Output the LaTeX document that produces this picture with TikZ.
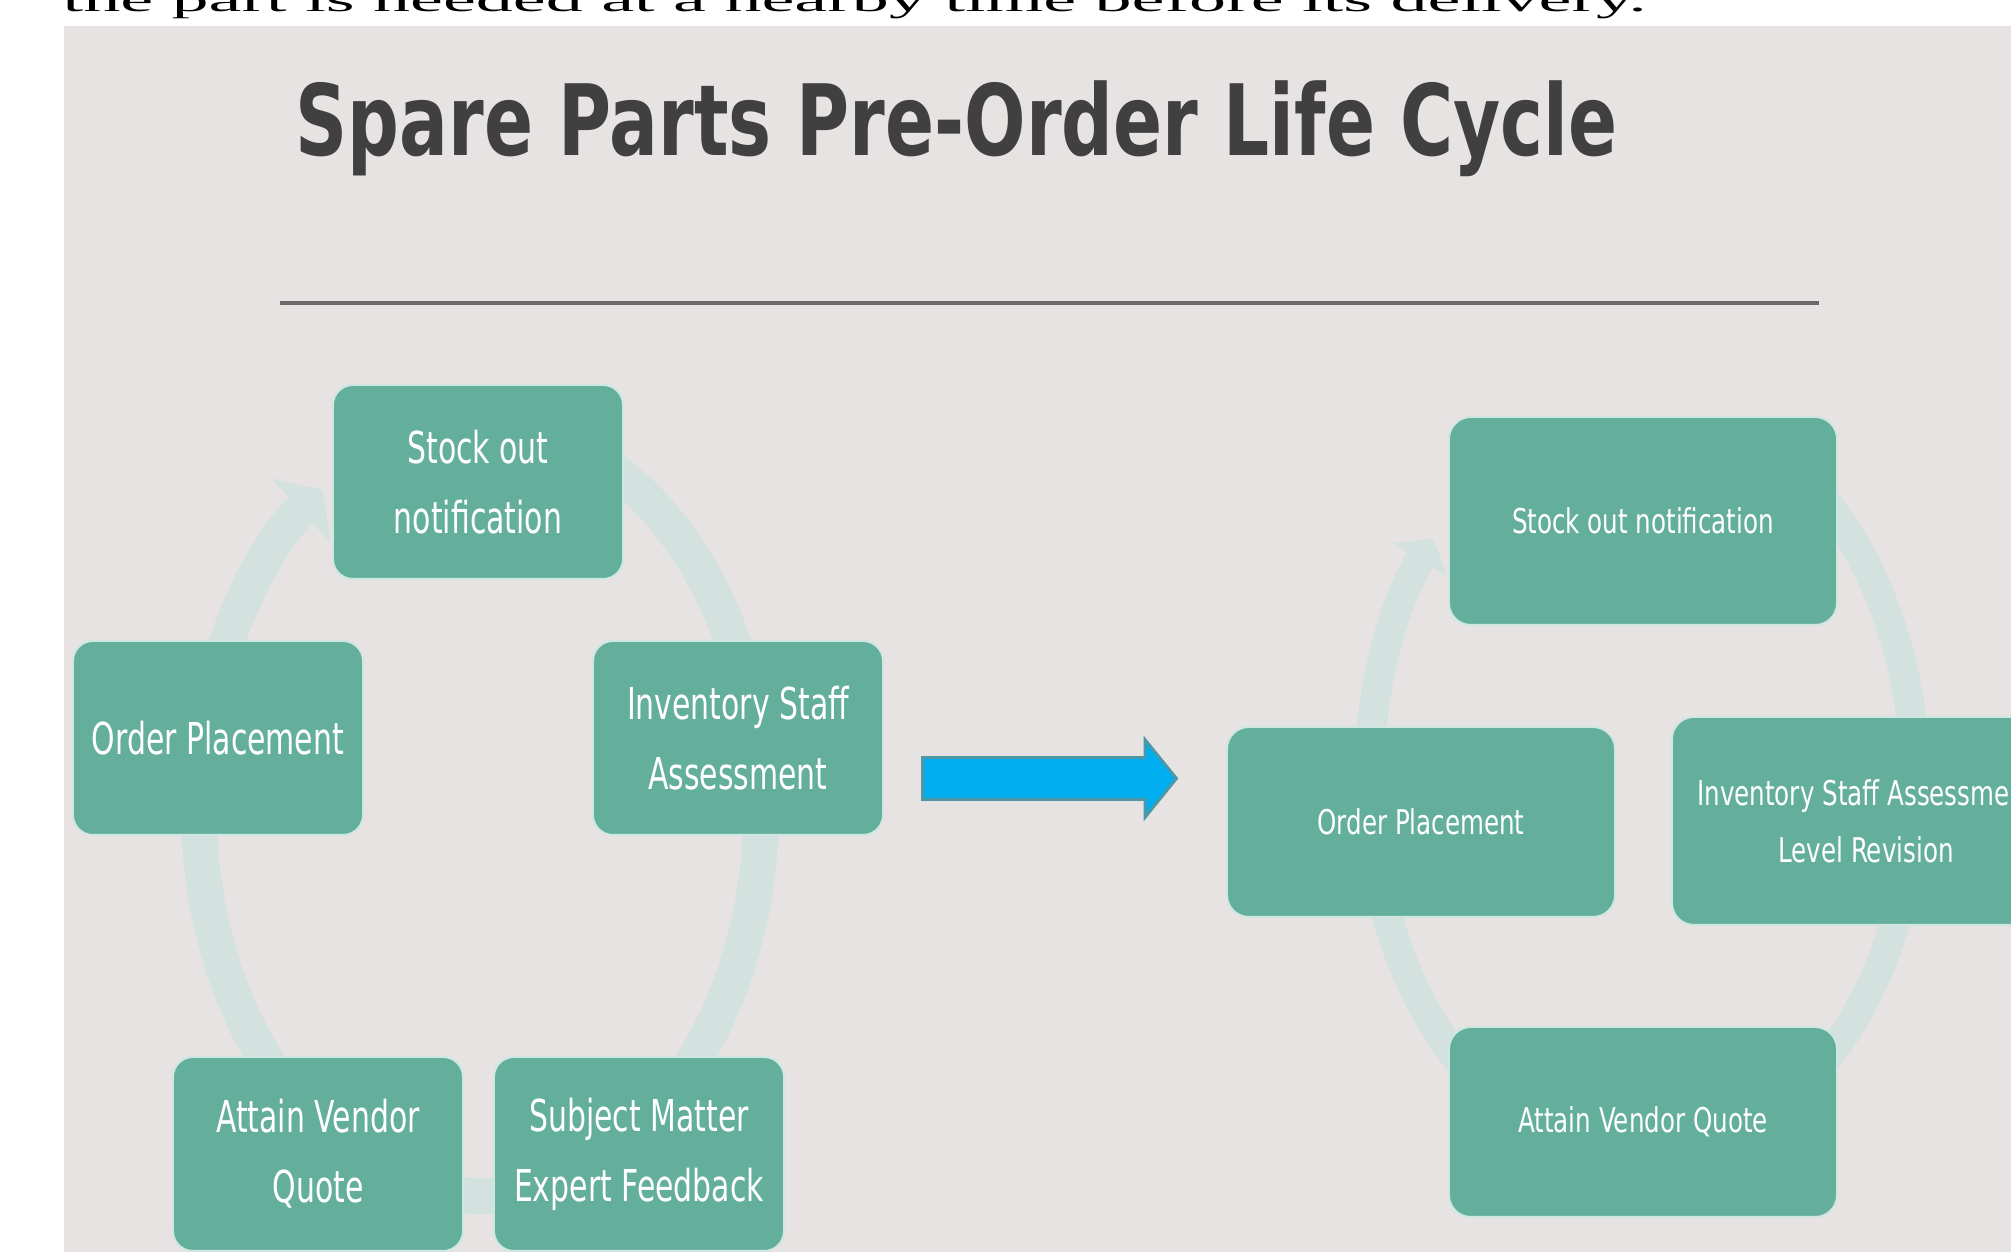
\documentclass[tikz,border=0pt]{standalone}
\usepackage{fontspec}
\usepackage{tikz}
\usetikzlibrary{shapes.arrows, arrows.meta, positioning}

\newfontfamily\titlefont[FakeStretch=0.735]{DejaVu Sans}
\newfontfamily\boxfont[FakeStretch=0.68]{DejaVu Sans}
\newfontfamily\smallboxfont[FakeStretch=0.72]{DejaVu Sans}
\newfontfamily\bodyfont[FakeStretch=2.17]{Liberation Serif}

\definecolor{panelgray}{RGB}{232,227,227}
\definecolor{cyclegreen}{RGB}{99,175,156}
\definecolor{ringgreen}{RGB}{211,226,223}
\definecolor{titlegray}{RGB}{64,64,64}
\definecolor{rulegray}{RGB}{105,105,105}
\definecolor{shiftblue}{RGB}{0,174,239}
\definecolor{shiftedge}{RGB}{78,152,166}

\tikzstyle{bigbox} = [rectangle, rounded corners=0.2cm, minimum width=2.9cm, minimum height=1.94cm, inner sep=0pt, align=center, text centered, draw=white!70!cyclegreen, line width=0.6pt, fill=cyclegreen, text=white, font=\boxfont\fontsize{12.5}{19.9}\selectfont]
\tikzstyle{smallbox} = [bigbox, rounded corners=0.22cm, minimum width=3.88cm, minimum height=1.9cm, font=\smallboxfont\fontsize{9.7}{16.2}\selectfont]
\tikzstyle{ring} = [draw=ringgreen, line width=10.2pt]
\tikzstyle{bluearrow} = [single arrow, fill=shiftblue, draw=shiftedge, line width=0.8pt, minimum height=2.54cm, inner xsep=0pt, inner ysep=0.195cm, single arrow head extend=0.18cm, single arrow head indent=0pt, single arrow tip angle=102]

\begin{document}
\begin{tikzpicture}[x=0.01cm, y=0.01cm]
    \clip (0,0) rectangle (2011,1252);
    \fill [panelgray] (64,0) rectangle (2011,1226);

    % running text above the figure
    \node (bodyText) [anchor=base west, inner sep=0pt, font=\bodyfont\fontsize{9.7}{12}\selectfont] at (62,1240) {the part is needed at a nearby time before its delivery.};

    % title and rule
    \node (title) [anchor=base west, inner sep=0pt, text=titlegray, font=\titlefont\bfseries\fontsize{28}{34}\selectfont] at (295,1096) {Spare Parts Pre-Order Life Cycle};
    \draw [rulegray, line width=0.9pt] (280,949) -- (1819,949);

    % current cycle
    \draw [ring, -{Triangle[width=24.5pt, length=8.5pt]}] (480,442) ++(72:281 and 386) arc [start angle=72, end angle=-236, x radius=281, y radius=386];
    \node (stockL) [bigbox] at (478,770) {Stock out\\notification};
    \node (orderL) [bigbox] at (218,514) {Order Placement};
    \node (staffL) [bigbox] at (738,514) {Inventory Staff\\Assessment};
    \node (quoteL) [bigbox] at (318,98) {Attain Vendor\\Quote};
    \node (expertL) [bigbox] at (639,98) {Subject Matter\\Expert Feedback};

    % shift to the new cycle
    \node (shiftArrow) [bluearrow, anchor=tail] at (921,473.5) {};

    % new cycle
    \draw [ring, line width=8.5pt, -{Triangle[width=18pt, length=7pt]}] (1642,471) ++(60:273 and 377) arc [start angle=60, end angle=-220, x radius=273, y radius=377];
    \node (stockR) [smallbox, minimum height=2.08cm] at (1643,731) {Stock out notification};
    \node (orderR) [smallbox] at (1421,430) {Order Placement};
    \node (staffR) [smallbox, minimum height=2.08cm] at (1866,431) {Inventory Staff Assessment\\Level Revision};
    \node (quoteR) [smallbox] at (1643,130) {Attain Vendor Quote};

\end{tikzpicture}
\end{document}
